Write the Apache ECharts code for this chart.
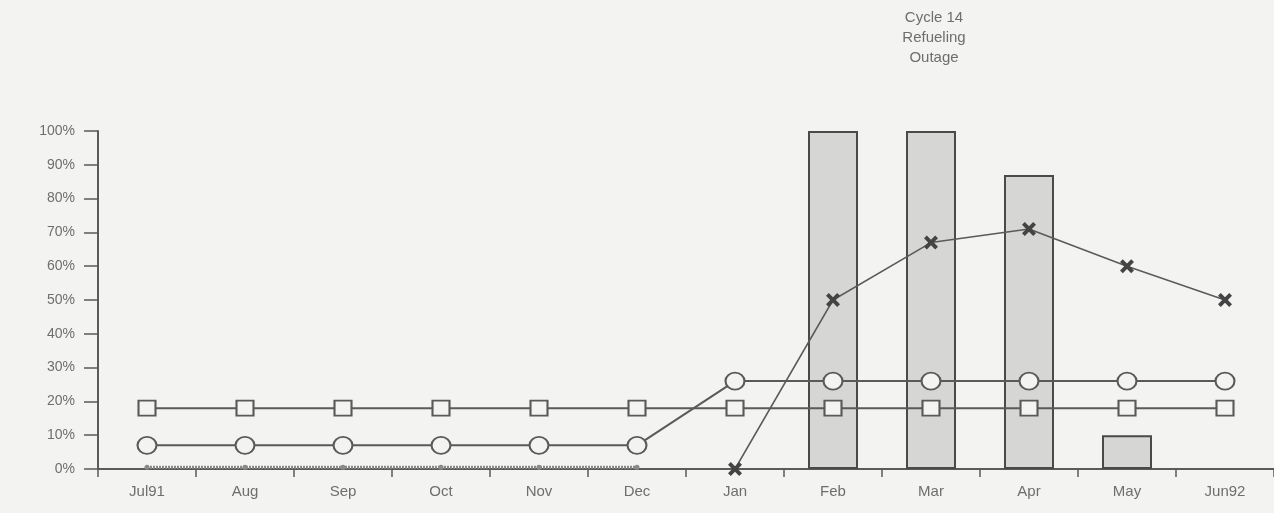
<!DOCTYPE html>
<html><head><meta charset="utf-8">
<script src="https://cdn.jsdelivr.net/npm/echarts@6/dist/echarts.min.js"></script>
<style>html,body{margin:0;padding:0;background:#f3f3f1;}#c{width:1274px;height:513px;}</style>
</head><body><div id="c"></div>
<script>
const months = ['Jul91','Aug','Sep','Oct','Nov','Dec','Jan','Feb','Mar','Apr','May','Jun92'];
const outageBars = [null,null,null,null,null,null,null,100,100,87,10,null];
const squareSeries = [18,18,18,18,18,18,18,18,18,18,18,18];
const circleSeries = [7,7,7,7,7,7,26,26,26,26,26,26];
const crossSeries = [null,null,null,null,null,null,0,50,67,71,60,50];
const lowSeries = [0.5,0.5,0.5,0.5,0.5,0.5,null,null,null,null,null,null];
const yTicks = [0,10,20,30,40,50,60,70,80,90,100];

const ink = '#5a5a5a';
const txt = '#6e6e6e';
const font = 'Liberation Sans';
const crossPath = 'path://M2,0L5,3L8,0L10,2L7,5L10,8L8,10L5,7L2,10L0,8L3,5L0,2Z';

const chart = echarts.init(document.getElementById('c'));
chart.setOption({
  backgroundColor: '#f3f3f1',
  animation: false,
  grid: {left: 98, right: 0, top: 131, bottom: 44, containLabel: false},
  xAxis: {
    type: 'category', data: months, boundaryGap: true,
    axisLine: {lineStyle: {color: ink, width: 2}},
    axisTick: {show: true, inside: false, length: 8, lineStyle: {color: ink, width: 1.5}},
    axisLabel: {color: txt, fontFamily: font, fontSize: 15, margin: 15}
  },
  yAxis: {
    type: 'value', min: 0, max: 100, interval: 10,
    axisLine: {show: true, lineStyle: {color: ink, width: 2}},
    axisTick: {show: true, length: 14, lineStyle: {color: ink, width: 1.5}},
    splitLine: {show: false},
    axisLabel: {color: txt, fontFamily: font, fontSize: 14, margin: 23,
      formatter: v => yTicks.includes(v) ? v + '%' : ''}
  },
  series: [
    {type: 'bar', data: outageBars, barWidth: 50, z: 1,
     itemStyle: {color: '#d6d6d4', borderColor: '#4a4a4a', borderWidth: 2}},
    {type: 'line', data: lowSeries, symbol: 'circle', symbolSize: 5, z: 2,
     lineStyle: {color: '#8a8a8a', width: 3, type: [2, 1]},
     itemStyle: {color: '#8a8a8a'}},
    {type: 'line', data: squareSeries, symbol: 'rect', symbolSize: [17, 15], z: 3,
     lineStyle: {color: ink, width: 2},
     itemStyle: {color: '#f3f3f1', borderColor: ink, borderWidth: 2}},
    {type: 'line', data: circleSeries, symbol: 'circle', symbolSize: [19, 17], z: 3,
     lineStyle: {color: ink, width: 2},
     itemStyle: {color: '#f3f3f1', borderColor: ink, borderWidth: 2}},
    {type: 'line', data: crossSeries, symbol: crossPath, symbolSize: 14, z: 4, connectNulls: false,
     lineStyle: {color: ink, width: 1.5},
     itemStyle: {color: '#444', borderWidth: 0}}
  ],
  graphic: [{
    type: 'text', x: 934, y: 8,
    style: {text: 'Cycle 14\nRefueling\nOutage', fill: txt, font: '15px "Liberation Sans"',
      align: 'center', textAlign: 'center', lineHeight: 20}
  }]
});
</script></body></html>
